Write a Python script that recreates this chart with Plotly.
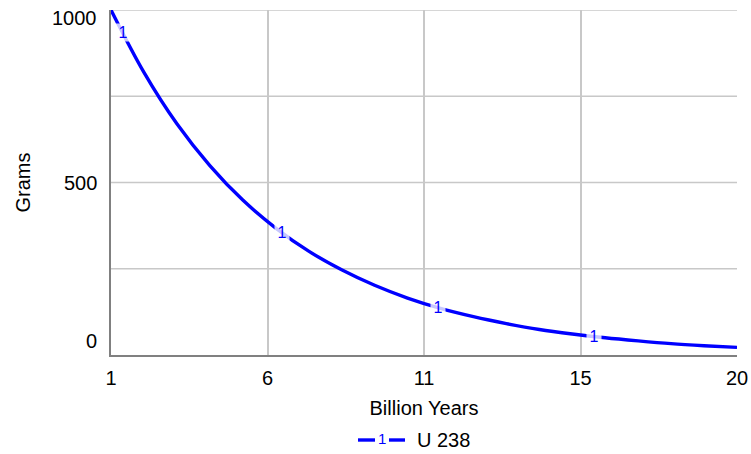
import numpy as np
import plotly.graph_objects as go

# Data
years = list(range(1, 21))
grams = [1000, 819, 670, 549, 449, 368, 301, 247, 202, 165,
         135, 111, 91, 74, 61, 50, 41, 33, 27, 22]

x_tick_vals = [1, 5.75, 10.5, 15.25, 20]
x_tick_text = ["1", "6", "11", "15", "20"]
y_tick_vals = [0, 500, 1000]
y_tick_text = ["0", "500", "1000"]
y_grid_vals = [250, 500, 750, 1000]

marker_years = [1.36, 6.19, 10.92, 15.66]
series_name = "U 238"

BLUE = "#0000ff"
FONT = "Liberation Sans, Arial, sans-serif"
FS = 20

fig = go.Figure()
fig.add_trace(go.Scatter(
    x=years, y=grams, mode="lines", line=dict(color=BLUE, width=3.4, shape="spline"),
    name=series_name, showlegend=False, hoverinfo="skip"))

# line markers "1"
for t in marker_years:
    v = float(np.interp(t, years, grams))
    fig.add_annotation(x=t, y=v, xref="x", yref="y", text="1", showarrow=False,
                       font=dict(family=FONT, size=16, color=BLUE),
                       bgcolor="rgba(255,255,255,0.78)", borderpad=0, width=14)

# y tick labels placed inside bounds like the original
shifts = {0: 14, 500: 0, 1000: -8}
for v, txt in zip(y_tick_vals, y_tick_text):
    fig.add_annotation(x=0, y=v, xref="paper", yref="y", text=txt, showarrow=False,
                       xanchor="right", yanchor="middle", xshift=-12, yshift=shifts[v],
                       font=dict(family=FONT, size=FS, color="#000"))

# grid lines (horizontal)
for v in y_grid_vals:
    fig.add_shape(type="line", xref="paper", yref="y", x0=0, x1=1, y0=v, y1=v,
                  line=dict(color="#c8c8c8", width=1.5), layer="below")

# legend
LY = (355 - 440) / 345
fig.add_shape(type="line", xref="paper", yref="paper", x0=(358-111)/626, x1=(375-111)/626,
              y0=LY, y1=LY, line=dict(color=BLUE, width=3.4))
fig.add_shape(type="line", xref="paper", yref="paper", x0=(389-111)/626, x1=(405-111)/626,
              y0=LY, y1=LY, line=dict(color=BLUE, width=3.4))
fig.add_annotation(x=(382-111)/626, y=LY, xref="paper", yref="paper", text="1", showarrow=False,
                   yanchor="middle", font=dict(family=FONT, size=15, color=BLUE), yshift=2)
fig.add_annotation(x=(415-111)/626, y=LY, xref="paper", yref="paper", text=series_name,
                   showarrow=False, xanchor="left", yanchor="middle",
                   font=dict(family=FONT, size=FS, color="#000"))

fig.update_layout(
    width=751, height=454,
    margin=dict(l=111, r=14, t=10, b=99, autoexpand=False),
    paper_bgcolor="white", plot_bgcolor="white",
    font=dict(family=FONT, size=FS, color="#000"),
    showlegend=False,
    xaxis=dict(range=[1, 20], tickmode="array", tickvals=x_tick_vals, ticktext=x_tick_text,
               showgrid=True, gridcolor="#c8c8c8", gridwidth=1.5,
               showline=True, linecolor="#808080", linewidth=2, mirror=False,
               zeroline=False, ticks="", ticklabelstandoff=4, automargin=False,
               title=dict(text="Billion Years", font=dict(family=FONT, size=FS), standoff=13)),
    yaxis=dict(range=[0, 1000], showgrid=False, showticklabels=False,
               showline=True, linecolor="#808080", linewidth=2,
               zeroline=False, ticks="", automargin=False,
               title=dict(text="Grams", font=dict(family=FONT, size=FS), standoff=73)),
)

fig.write_html("out.html", config={"displayModeBar": False},
               post_script="document.body.style.margin='0';document.body.style.overflow='hidden';")
